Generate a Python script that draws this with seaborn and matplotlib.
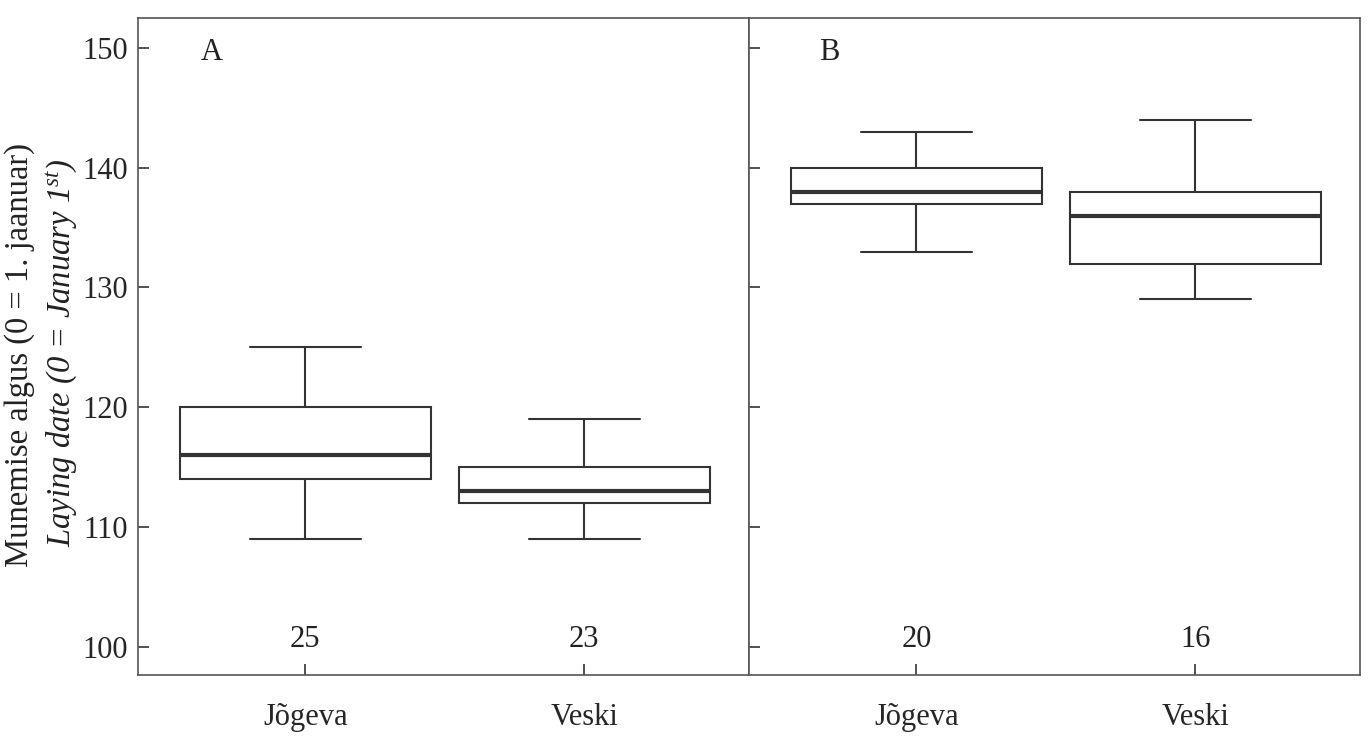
import pandas as pd
import matplotlib
matplotlib.use('Agg')
import matplotlib.pyplot as plt
import seaborn as sns

# five-number summaries (min, q1, median, q3, max)
sites = ['Jõgeva', 'Veski']
panel_a_jogeva = [109, 114, 116, 120, 125]
panel_a_veski = [109, 112, 113, 115, 119]
panel_b_jogeva = [133, 137, 138, 140, 143]
panel_b_veski = [129, 132, 136, 138, 144]
n_a = [25, 23]
n_b = [20, 16]

df_a = pd.DataFrame({'site': [sites[0]] * 5 + [sites[1]] * 5,
                     'paev': panel_a_jogeva + panel_a_veski})
df_b = pd.DataFrame({'site': [sites[0]] * 5 + [sites[1]] * 5,
                     'paev': panel_b_jogeva + panel_b_veski})

sns.set_style('white')
plt.rcParams['font.family'] = ['Liberation Serif', 'DejaVu Serif']
plt.rcParams['mathtext.fontset'] = 'custom'
plt.rcParams['mathtext.rm'] = 'Liberation Serif'
plt.rcParams['mathtext.it'] = 'Liberation Serif:italic'

line_col = '#333333'
fig = plt.figure(figsize=(13.7, 7.4), dpi=100)
ax1 = fig.add_axes([0.1007, 0.0878, 0.446, 0.888])
ax2 = fig.add_axes([0.5467, 0.0878, 0.446, 0.888])

for ax, df, n, lab, lx in [(ax1, df_a, n_a, 'A', 0.12), (ax2, df_b, n_b, 'B', 0.131)]:
    sns.boxplot(data=df, x='site', y='paev', order=sites, ax=ax,
                whis=(0, 100), width=0.9, color='white', linecolor=line_col,
                linewidth=1.5, capwidths=0.4,
                medianprops={'linewidth': 3, 'color': line_col})
    ax.set_xlim(-0.6, 1.59)
    ax.set_ylim(97.65, 152.5)
    ax.set_yticks([100, 110, 120, 130, 140, 150])
    ax.set_xlabel('')
    ax.set_ylabel('')
    ax.tick_params(axis='both', direction='in', length=8, width=1.2,
                   color=line_col, labelsize=22)
    ax.tick_params(axis='x', pad=20, bottom=True)
    ax.tick_params(axis='y', pad=7, left=True)
    for s in ax.spines.values():
        s.set_visible(True)
        s.set_color('#555555')
        s.set_linewidth(1.2)
    for i, v in enumerate(n):
        ax.text(i, 100, str(v), ha='center', va='baseline', fontsize=22, color='#222222')
    ax.text(lx, 0.948, lab, transform=ax.transAxes, ha='center', va='center',
            fontsize=22, color='#222222')

ax2.tick_params(axis='y', labelleft=False)

fig.text(0.0146, 0.52, 'Munemise algus (0 = 1. jaanuar)', rotation=90,
         ha='center', va='center', fontsize=23.5, color='#222222')
fig.text(0.0445, 0.524, 'Laying date (0 = January 1$^{st}$)', rotation=90,
         ha='center', va='center', fontsize=23.5, style='italic', color='#222222')

fig.savefig('out.png', dpi=100, facecolor='white')
